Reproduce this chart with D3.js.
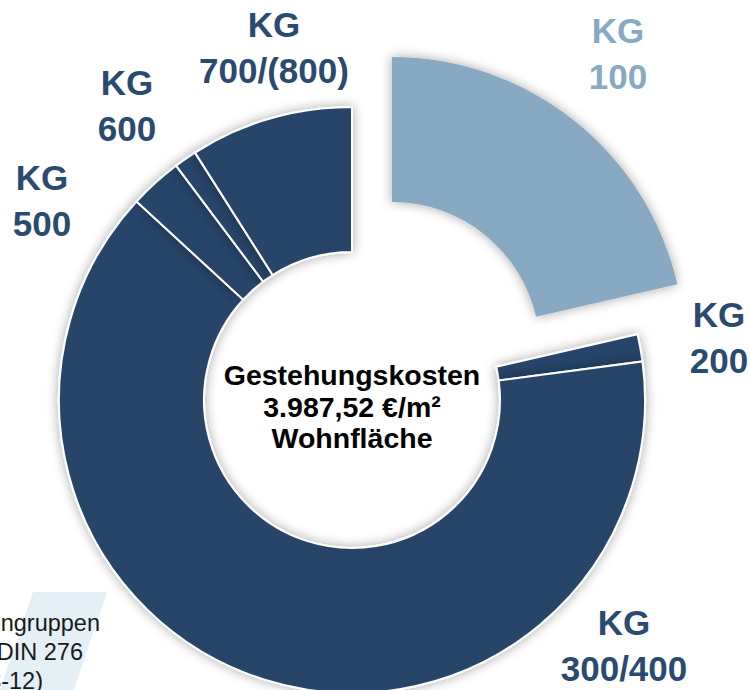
<!DOCTYPE html>
<html>
<head>
<meta charset="utf-8">
<script src="https://cdn.jsdelivr.net/npm/d3@7"></script>
<style>
  body { margin: 0; background: #fff; }
  svg { display: block; font-family: "Liberation Sans", Arial, sans-serif; }
</style>
</head>
<body>
<div id="chart"></div>
<script>
// Kostengruppen (share of Gestehungskosten, %)
const groups = ["KG 100", "KG 200", "KG 300/400", "KG 500", "KG 600", "KG 700/(800)"];
const shares = [21.4, 1.5, 63.95, 2.9, 1.25, 9.0];
const labelLines = [["KG", "100"], ["KG", "200"], ["KG", "300/400"], ["KG", "500"], ["KG", "600"], ["KG", "700/(800)"]];
const highlighted = "KG 100";
const centerLines = ["Gestehungskosten", "3.987,52 €/m²", "Wohnfläche"];
const noteLines = ["Kostengruppen", "nach DIN 276", "(2018-12)"];

const width = 750;
const height = 690;
const cx = 352;
const cy = 400;
const outerR = 293;
const innerR = 148;
const explode = 64;

const darkBlue = "#284569";
const lightBlue = "#87aac2";
const labelDark = "#2b4a6f";

// label anchor (first baseline), relative to the donut centre
const labelOffsets = [[266, -357], [367, -73], [272, 235], [-310, -210], [-225, -305], [-78, -363]];

const svg = d3.select("#chart")
  .append("svg")
  .attr("width", width)
  .attr("height", height);

const defs = svg.append("defs");
const shadow = defs.append("filter")
  .attr("id", "shadow")
  .attr("x", "-20%").attr("y", "-20%")
  .attr("width", "140%").attr("height", "140%");
shadow.append("feDropShadow")
  .attr("dx", 0).attr("dy", 0)
  .attr("stdDeviation", 6)
  .attr("flood-color", "#000")
  .attr("flood-opacity", 0.34);

// light stripe behind the note in the bottom left
svg.append("path")
  .attr("d", "M33,592 L107,592 L74,690 L0,690 Z")
  .attr("fill", "#e4eff6");

const pie = d3.pie().sort(null).value((d) => d);
const arcs = pie(shares);
const arc = d3.arc().innerRadius(innerR).outerRadius(outerR);

const root = svg.append("g").attr("transform", `translate(${cx},${cy})`);

root.selectAll("path.slice")
  .data(arcs)
  .enter()
  .append("path")
  .attr("class", "slice")
  .attr("d", arc)
  .attr("transform", (d, i) => {
    if (groups[i] !== highlighted) return null;
    const mid = (d.startAngle + d.endAngle) / 2;
    return `translate(${Math.sin(mid) * explode},${-Math.cos(mid) * explode})`;
  })
  .attr("fill", (d, i) => (groups[i] === highlighted ? lightBlue : darkBlue))
  .attr("stroke", (d, i) => (groups[i] === highlighted ? "none" : "#fff"))
  .attr("stroke-width", 2)
  .attr("filter", "url(#shadow)");

// Slice labels
const labels = root.selectAll("text.label")
  .data(arcs)
  .enter()
  .append("text")
  .attr("class", "label")
  .attr("text-anchor", "middle")
  .attr("font-size", 35)
  .attr("font-weight", "bold")
  .attr("fill", (d, i) => (groups[i] === highlighted ? lightBlue : labelDark));

labels.selectAll("tspan")
  .data((d, i) => labelLines[i].map((t) => ({ t, i })))
  .enter()
  .append("tspan")
  .attr("x", (d) => labelOffsets[d.i][0])
  .attr("y", (d, j) => labelOffsets[d.i][1] + j * 46)
  .text((d) => d.t);

// Centre text
root.append("text")
  .attr("text-anchor", "middle")
  .attr("font-size", 28.5)
  .attr("font-weight", "bold")
  .attr("fill", "#000")
  .selectAll("tspan")
  .data(centerLines)
  .enter()
  .append("tspan")
  .attr("x", 0)
  .attr("y", (d, i) => -15 + i * 31.5)
  .text((d) => d);

// Note, cut off at the left border as in the original slide
const noteRight = [100, 83, 43];
svg.append("text")
  .attr("text-anchor", "end")
  .attr("font-size", 23.5)
  .attr("fill", "#1a1a1a")
  .selectAll("tspan")
  .data(noteLines)
  .enter()
  .append("tspan")
  .attr("x", (d, i) => noteRight[i])
  .attr("y", (d, i) => 631 + i * 29)
  .text((d) => d);
</script>
</body>
</html>
